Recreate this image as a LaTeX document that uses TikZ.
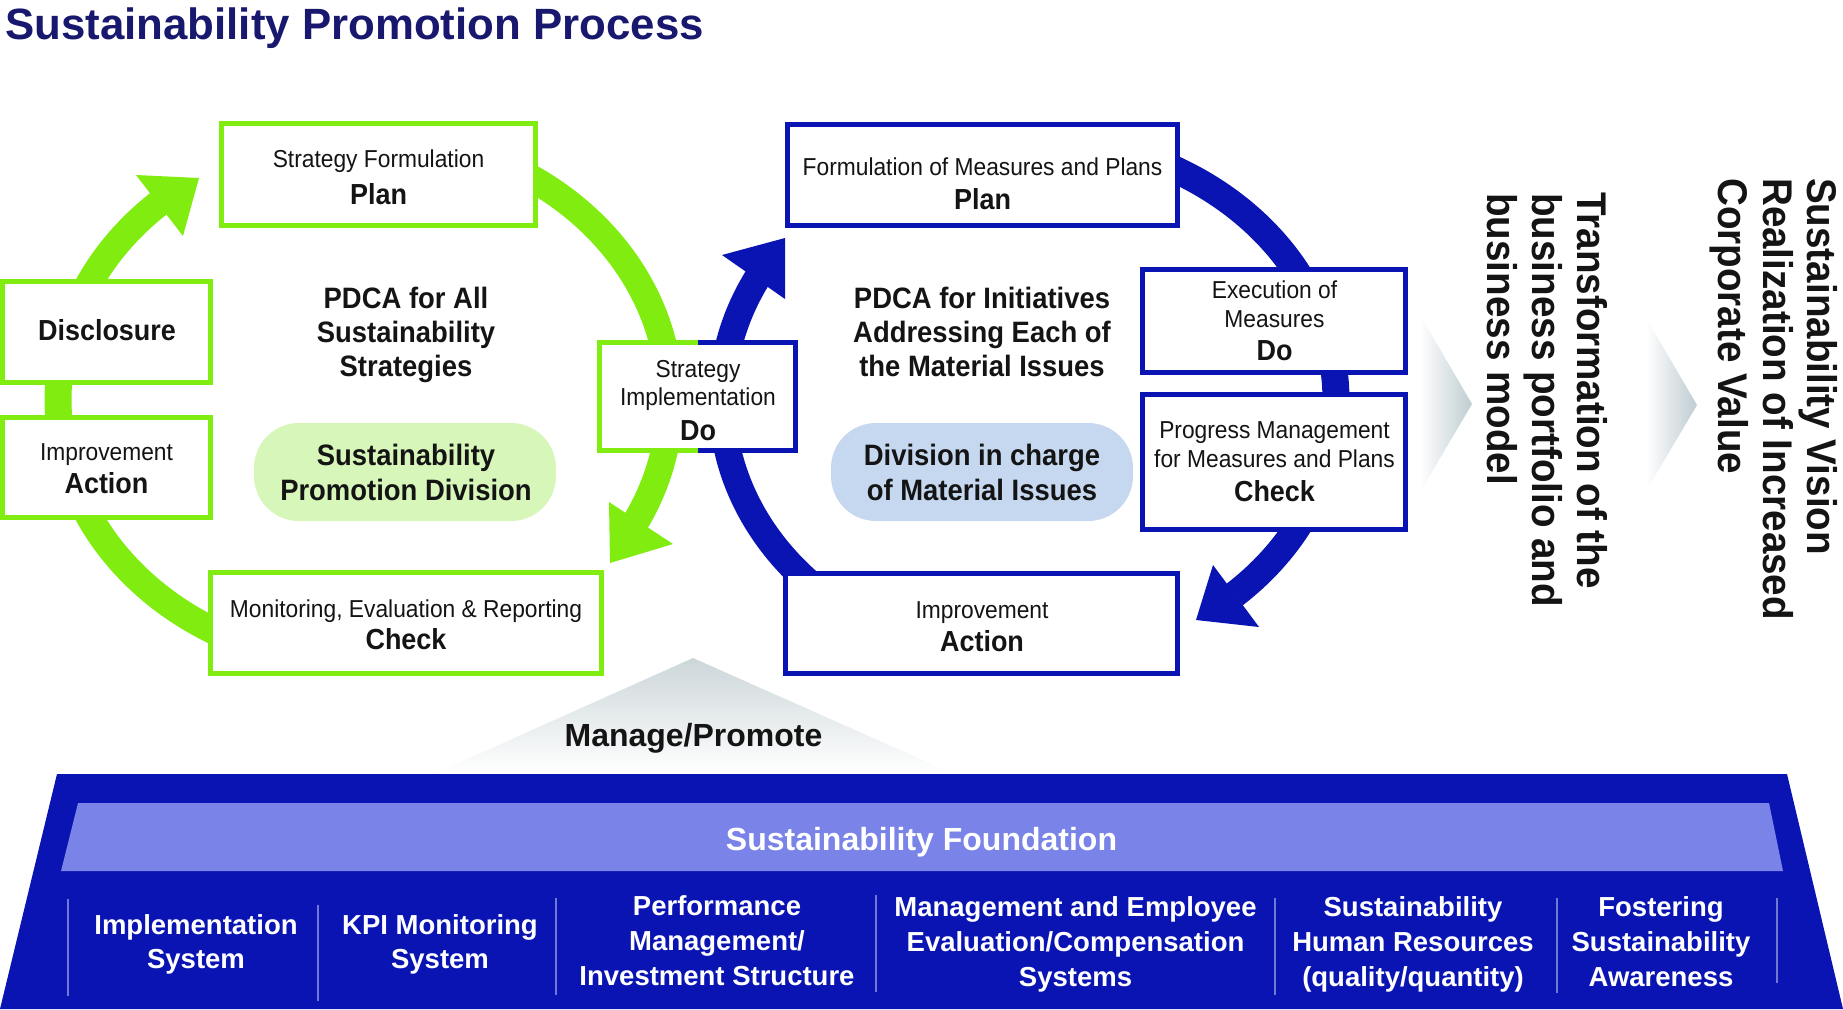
\documentclass[tikz,border=0pt]{standalone}
\usepackage{fontspec}
\setmainfont{Liberation Sans}
\newfontfamily\cndfam{Liberation Sans}[FakeStretch=0.93]
\definecolor{lgreen}{RGB}{128,236,16}
\definecolor{dblue}{RGB}{10,20,178}
\definecolor{lband}{RGB}{122,132,232}
\definecolor{pgreen}{RGB}{214,246,186}
\definecolor{pblue}{RGB}{198,216,240}
\definecolor{chevgray}{RGB}{190,204,209}
\definecolor{trigray}{RGB}{204,214,217}
\definecolor{navy}{RGB}{24,24,110}
\definecolor{sepc}{RGB}{112,122,212}
\definecolor{txt}{RGB}{20,20,20}
\newcommand\fntSmall{\cndfam\fontsize{24.5}{28}\selectfont}
\newcommand\fntLab{\cndfam\bfseries\fontsize{29}{33}\selectfont}
\newcommand\fntCen{\cndfam\bfseries\fontsize{29.5}{34}\selectfont}
\newcommand\fntVert{\cndfam\bfseries\fontsize{41.5}{45}\selectfont}
\newcommand\fntItem{\bfseries\fontsize{27.5}{34}\selectfont}
\newcommand\fntFound{\bfseries\fontsize{32}{36}\selectfont}
\newcommand\fntTitle{\bfseries\fontsize{43.8}{48}\selectfont}
\begin{document}
\begin{tikzpicture}[x=1pt,y=-1pt,
  gbox/.style={draw=lgreen,line width=5pt,fill=white,inner sep=0pt,outer sep=0pt},
  bbox/.style={draw=dblue,line width=5pt,fill=white,inner sep=0pt,outer sep=0pt},
  gring/.style={draw=lgreen,line width=27pt},
  bring/.style={draw=dblue,line width=27pt},
  tS/.style={font=\fntSmall,text=txt,anchor=base,inner sep=0pt},
  tL/.style={font=\fntLab,text=txt,anchor=base,inner sep=0pt},
  tC/.style={font=\fntCen,text=txt,anchor=base,inner sep=0pt},
  tV/.style={font=\fntVert,text=txt,anchor=base west,rotate=-90,inner sep=0pt},
  tI/.style={font=\fntItem,text=white,anchor=base,inner sep=0pt},
  pill/.style={inner sep=0pt,rounded corners=45pt,minimum height=98pt,minimum width=302pt},
  sepline/.style={draw=sepc,line width=2pt}]
\useasboundingbox (0,0) rectangle (1843,1009);

% title
\node[font=\fntTitle,text=navy,anchor=base west,inner sep=0pt] (title) at (5,39) {Sustainability Promotion Process};

% rings
\draw[gring] plot[domain=-62:28,samples=90] ({364+306*cos(\x)},{400+265*sin(\x)});
\draw[gring] plot[domain=115:228,samples=90] ({364+306*cos(\x)},{400+265*sin(\x)});
\draw[bring] plot[domain=-65:48,samples=90] ({1029+307*cos(\x)},{400+262*sin(\x)});
\draw[bring] plot[domain=135:208,samples=90] ({1029+307*cos(\x)},{400+262*sin(\x)});
\fill[lgreen] (609,502) -- (673,544) -- (610,563) -- cycle;
\fill[lgreen] (136,175) -- (183,236) -- (199,178) -- cycle;
\fill[dblue] (1213,565) -- (1259,627) -- (1196,620) -- cycle;
\fill[dblue] (722,255) -- (785,299) -- (785,238) -- cycle;

% green boxes
\node[gbox,minimum width=314pt,minimum height=102pt] (gplan) at (378.5,174.5) {};
\node[gbox,minimum width=208pt,minimum height=101pt] (gdisc) at (106.5,332) {};
\node[gbox,minimum width=208pt,minimum height=100pt] (gact) at (106.5,467.5) {};
\node[gbox,minimum width=391pt,minimum height=101pt] (gcheck) at (406,623) {};
% shared Do box
\node[fill=white,inner sep=0pt,outer sep=0pt,minimum width=196pt,minimum height=108pt] (gdo) at (697.5,396.5) {};
\draw[lgreen,line width=5pt] (gdo.north) -- (gdo.north west) -- (gdo.south west) -- (gdo.south);
\draw[dblue,line width=5pt] (gdo.north) -- (gdo.north east) -- (gdo.south east) -- (gdo.south);
% blue boxes
\node[bbox,minimum width=390pt,minimum height=101pt] (bplan) at (982.5,175) {};
\node[bbox,minimum width=263pt,minimum height=103pt] (bdo) at (1274,321) {};
\node[bbox,minimum width=263pt,minimum height=135pt] (bcheck) at (1274,462) {};
\node[bbox,minimum width=392pt,minimum height=100pt] (bact) at (981.5,623.5) {};

% box texts
\node[tS] (gplan1) at (378.5,167) {Strategy Formulation};
\node[tL] (gplan2) at (378.5,204) {Plan};
\node[tL] (gdisc1) at (107,340) {Disclosure};
\node[tS] (gact1) at (106.5,460) {Improvement};
\node[tL] (gact2) at (106.5,493) {Action};
\node[tS] (gcheck1) at (406,617) {Monitoring, Evaluation \& Reporting};
\node[tL] (gcheck2) at (406,649) {Check};
\node[tS] (gdo1) at (698,377) {Strategy};
\node[tS] (gdo2) at (698,405) {Implementation};
\node[tL] (gdo3) at (698,440) {Do};
\node[tS] (bplan1) at (982.5,175) {Formulation of Measures and Plans};
\node[tL] (bplan2) at (982.5,209) {Plan};
\node[tS] (bdo1) at (1274.5,298) {Execution of};
\node[tS] (bdo2) at (1274.5,327) {Measures};
\node[tL] (bdo3) at (1274.5,360) {Do};
\node[tS] (bcheck1) at (1274.5,438) {Progress Management};
\node[tS] (bcheck2) at (1274.5,467) {for Measures and Plans};
\node[tL] (bcheck3) at (1274.5,501) {Check};
\node[tS] (bact1) at (982,618) {Improvement};
\node[tL] (bact2) at (982,651) {Action};

% centre texts
\node[tC] (gc1) at (406,308) {PDCA for All};
\node[tC] (gc2) at (406,342) {Sustainability};
\node[tC] (gc3) at (406,376) {Strategies};
\node[pill,fill=pgreen] (gpill) at (405,472) {};
\node[tC] (gp1) at (406,465.5) {Sustainability};
\node[tC] (gp2) at (406,500) {Promotion Division};
\node[tC] (bc1) at (982,308) {PDCA for Initiatives};
\node[tC] (bc2) at (982,342) {Addressing Each of};
\node[tC] (bc3) at (982,376) {the Material Issues};
\node[pill,fill=pblue] (bpill) at (982,472) {};
\node[tC] (bp1) at (982,465.5) {Division in charge};
\node[tC] (bp2) at (982,500) {of Material Issues};

% chevrons
\shade[left color=white,right color=chevgray] (1420,315) -- (1472,404) -- (1420,492) -- cycle;
\shade[left color=white,right color=chevgray] (1646,318) -- (1697,405) -- (1646,491) -- cycle;

% vertical texts
\node[tV] (v1) at (1577,192) {Transformation of the};
\node[tV] (v2) at (1532,193) {business portfolio and};
\node[tV] (v3) at (1487,193) {business model};
\node[tV] (v4) at (1807,178) {Sustainability Vision};
\node[tV] (v5) at (1763,178) {Realization of Increased};
\node[tV] (v6) at (1718,178) {Corporate Value};

% manage/promote
\shade[top color=trigray,bottom color=white] (693,658) -- (952,773) -- (436,773) -- cycle;
\node[font=\fntFound,text=txt,anchor=base,inner sep=0pt] (mp) at (693.5,746) {Manage/Promote};

% foundation
\fill[dblue] (57,774) -- (1787,774) -- (1843,1009) -- (0,1009) -- cycle;
\fill[lband] (78,803) -- (1769,803) -- (1783,871) -- (61,871) -- cycle;
\node[font=\fntFound,text=white,anchor=base,inner sep=0pt] (ftitle) at (921.5,850) {Sustainability Foundation};
\coordinate (s1a) at (68,899); \coordinate (s1b) at (68,996);
\coordinate (s2a) at (318,905); \coordinate (s2b) at (318,1001);
\coordinate (s3a) at (556,898); \coordinate (s3b) at (556,995);
\coordinate (s4a) at (876,895); \coordinate (s4b) at (876,992);
\coordinate (s5a) at (1275,898); \coordinate (s5b) at (1275,995);
\coordinate (s6a) at (1557,898); \coordinate (s6b) at (1557,993);
\coordinate (s7a) at (1777,898); \coordinate (s7b) at (1777,983);
\foreach \s in {1,...,7} {\draw[sepline] (s\s a) -- (s\s b);}
\node[tI] (f1a) at (196,934) {Implementation};
\node[tI] (f1b) at (196,968) {System};
\node[tI] (f2a) at (440,934) {KPI Monitoring};
\node[tI] (f2b) at (440,968) {System};
\node[tI] (f3a) at (717,915) {Performance};
\node[tI] (f3b) at (717,950) {Management/};
\node[tI] (f3c) at (717,985) {Investment Structure};
\node[tI] (f4a) at (1075.5,916) {Management and Employee};
\node[tI] (f4b) at (1075.5,951) {Evaluation/Compensation};
\node[tI] (f4c) at (1075.5,986) {Systems};
\node[tI] (f5a) at (1413,916) {Sustainability};
\node[tI] (f5b) at (1413,951) {Human Resources};
\node[tI] (f5c) at (1413,986) {(quality/quantity)};
\node[tI] (f6a) at (1661,916) {Fostering};
\node[tI] (f6b) at (1661,951) {Sustainability};
\node[tI] (f6c) at (1661,986) {Awareness};
\end{tikzpicture}
\end{document}
